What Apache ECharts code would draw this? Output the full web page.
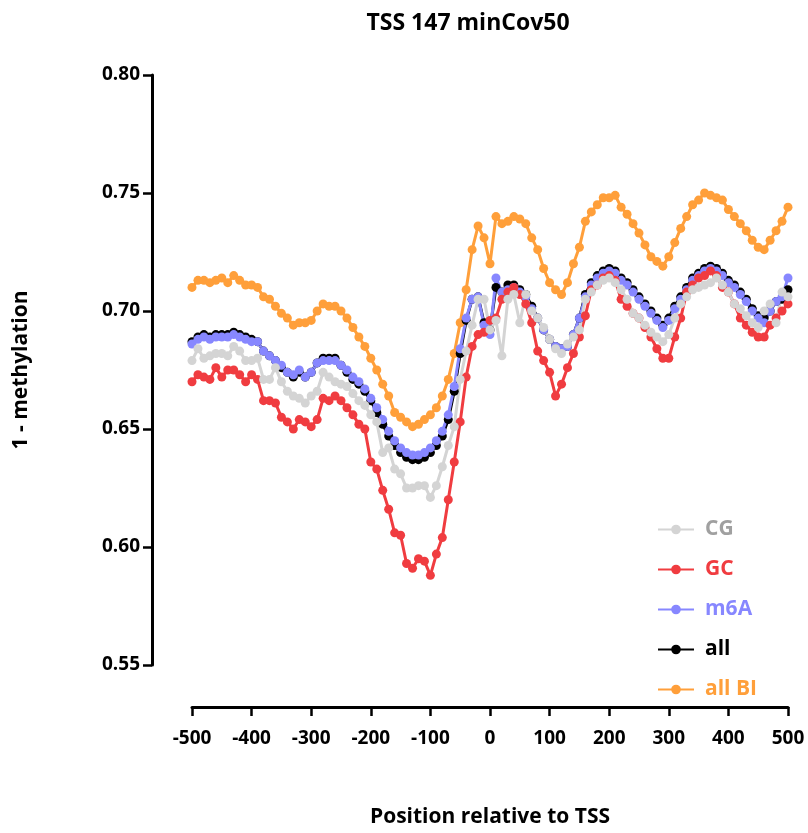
<!DOCTYPE html>
<html><head><meta charset="utf-8">
<script src="https://cdn.jsdelivr.net/npm/echarts@6/dist/echarts.min.js"></script>
<style>html,body{margin:0;padding:0;background:#fff}#c{width:808px;height:833px}</style>
</head><body><div id="c"></div>
<script>
const positions = [];
for (let p = -500; p <= 500; p += 10) positions.push(p);

const allBI = [0.710,0.713,0.713,0.712,0.713,0.714,0.712,0.715,0.713,0.711,0.711,0.710,0.706,0.705,0.702,0.699,0.697,0.694,0.695,0.695,
0.696,0.700,0.703,0.702,0.702,0.700,0.697,0.693,0.689,0.685,0.680,0.675,0.669,0.664,0.657,0.655,0.653,0.651,0.652,0.654,
0.656,0.659,0.664,0.671,0.682,0.695,0.709,0.726,0.736,0.731,0.720,0.740,0.737,0.738,0.740,0.739,0.737,0.731,0.726,0.718,
0.712,0.709,0.707,0.712,0.720,0.727,0.738,0.742,0.745,0.748,0.748,0.749,0.744,0.741,0.737,0.733,0.728,0.723,0.721,0.719,
0.723,0.729,0.735,0.740,0.745,0.747,0.750,0.749,0.748,0.747,0.743,0.740,0.737,0.734,0.730,0.727,0.726,0.730,0.734,0.738,0.744];

const m6A = [0.686,0.688,0.689,0.688,0.689,0.689,0.689,0.690,0.689,0.688,0.687,0.687,0.683,0.681,0.679,0.677,0.674,0.673,0.675,0.672,
0.674,0.678,0.679,0.679,0.679,0.677,0.675,0.672,0.670,0.667,0.663,0.659,0.654,0.649,0.645,0.642,0.640,0.639,0.639,0.640,
0.642,0.645,0.649,0.656,0.668,0.684,0.697,0.705,0.706,0.694,0.690,0.714,0.708,0.709,0.710,0.708,0.706,0.701,0.697,0.692,
0.688,0.685,0.684,0.685,0.690,0.697,0.706,0.711,0.714,0.716,0.717,0.716,0.713,0.711,0.708,0.705,0.702,0.699,0.696,0.693,
0.696,0.701,0.705,0.709,0.713,0.715,0.717,0.718,0.717,0.715,0.712,0.710,0.707,0.704,0.700,0.697,0.695,0.700,0.704,0.706,0.714];

const all = [0.687,0.689,0.690,0.689,0.690,0.690,0.690,0.691,0.690,0.689,0.688,0.687,0.683,0.681,0.679,0.676,0.674,0.672,0.674,0.672,
0.674,0.678,0.680,0.680,0.680,0.677,0.674,0.671,0.669,0.666,0.662,0.657,0.652,0.647,0.643,0.640,0.638,0.637,0.637,0.638,
0.640,0.643,0.647,0.654,0.666,0.682,0.696,0.705,0.706,0.695,0.692,0.710,0.708,0.711,0.711,0.709,0.707,0.702,0.697,0.692,
0.688,0.685,0.684,0.685,0.690,0.697,0.707,0.712,0.715,0.717,0.718,0.717,0.714,0.712,0.709,0.706,0.703,0.700,0.697,0.694,
0.697,0.702,0.706,0.710,0.714,0.716,0.718,0.719,0.718,0.716,0.713,0.711,0.708,0.705,0.701,0.698,0.697,0.700,0.704,0.705,0.709];

const GC = [0.670,0.673,0.672,0.671,0.676,0.672,0.675,0.675,0.673,0.670,0.673,0.671,0.662,0.662,0.661,0.655,0.653,0.650,0.654,0.653,
0.651,0.654,0.663,0.662,0.664,0.662,0.659,0.656,0.652,0.650,0.636,0.633,0.624,0.616,0.606,0.605,0.593,0.591,0.595,0.594,
0.588,0.597,0.604,0.620,0.636,0.653,0.672,0.685,0.690,0.691,0.696,0.697,0.705,0.708,0.710,0.707,0.703,0.695,0.683,0.679,
0.674,0.664,0.669,0.676,0.682,0.689,0.698,0.709,0.711,0.714,0.715,0.713,0.705,0.702,0.699,0.697,0.693,0.689,0.684,0.680,
0.680,0.689,0.697,0.708,0.711,0.714,0.715,0.717,0.715,0.710,0.708,0.703,0.697,0.694,0.691,0.689,0.689,0.694,0.697,0.700,0.703];

const CG = [0.679,0.684,0.680,0.681,0.682,0.682,0.681,0.685,0.683,0.679,0.679,0.680,0.671,0.671,0.676,0.670,0.666,0.664,0.663,0.661,
0.664,0.666,0.674,0.672,0.670,0.669,0.668,0.665,0.662,0.660,0.656,0.653,0.640,0.642,0.633,0.631,0.625,0.625,0.626,0.626,
0.621,0.626,0.634,0.643,0.651,0.671,0.683,0.694,0.705,0.705,0.692,0.696,0.681,0.705,0.707,0.695,0.707,0.700,0.697,0.693,
0.688,0.684,0.682,0.686,0.689,0.692,0.705,0.708,0.711,0.713,0.714,0.712,0.709,0.705,0.699,0.697,0.694,0.691,0.689,0.687,
0.690,0.697,0.703,0.706,0.709,0.710,0.711,0.712,0.714,0.711,0.708,0.703,0.701,0.698,0.695,0.693,0.700,0.703,0.695,0.708,0.706];

const xTicks = [-500,-400,-300,-200,-100,0,100,200,300,400,500];
const yTicks = [0.55,0.60,0.65,0.70,0.75,0.80];

const FONT = '"Open Sans", "Noto Sans", sans-serif';
const pair = arr => positions.map((p, i) => [p, arr[i]]);
const mk = (name, arr, color) => ({
  name, type: 'line', data: pair(arr), symbol: 'circle', symbolSize: 9,
  itemStyle: {color}, lineStyle: {color, width: 3}, animation: false, z: 2
});

const chart = echarts.init(document.getElementById('c'));
chart.setOption({
  backgroundColor: '#fff',
  animation: false,
  title: {text: 'TSS 147 minCov50', left: 463, top: 7, textAlign: 'center',
    textStyle: {fontFamily: FONT, fontWeight: 'bold', fontSize: 23, color: '#000'}},
  grid: {left: 192, right: 20, top: 75, bottom: 163},
  legend: {
    orient: 'vertical', left: 652, top: 514, itemGap: 19, itemWidth: 36, itemHeight: 12,
    data: [
      {name: 'CG', textStyle: {color: '#a0a0a0'}},
      {name: 'GC', textStyle: {color: '#f03c40'}},
      {name: 'm6A', textStyle: {color: '#8787ff'}},
      {name: 'all', textStyle: {color: '#000'}},
      {name: 'all BI', textStyle: {color: '#ff9f3a'}}
    ],
    textStyle: {fontFamily: FONT, fontWeight: 'bold', fontSize: 21, padding: [0, 0, 0, 6]}
  },
  xAxis: {
    type: 'value', min: -500, max: 500, interval: 100, offset: 42,
    axisLine: {show: true, onZero: false, lineStyle: {color: '#000', width: 3}},
    axisTick: {show: true, length: 9, lineStyle: {color: '#000', width: 2.5}},
    splitLine: {show: false},
    axisLabel: {fontFamily: FONT, fontWeight: 'bold', fontSize: 19, color: '#000', margin: 22,
      formatter: v => xTicks.includes(v) ? String(v) : ''},
    name: 'Position relative to TSS', nameLocation: 'middle', nameGap: 100,
    nameTextStyle: {fontFamily: FONT, fontWeight: 'bold', fontSize: 21, color: '#000'}
  },
  yAxis: {
    type: 'value', min: 0.55, max: 0.80, interval: 0.05, offset: 40,
    axisLine: {show: true, onZero: false, lineStyle: {color: '#000', width: 3}},
    axisTick: {show: true, length: 9, lineStyle: {color: '#000', width: 2.5}},
    splitLine: {show: false},
    axisLabel: {fontFamily: FONT, fontWeight: 'bold', fontSize: 19, color: '#000', margin: 12,
      formatter: v => {const t = yTicks.find(y => Math.abs(y - v) < 1e-6); return t === undefined ? '' : t.toFixed(2);}},
    name: '1 - methylation', nameLocation: 'middle', nameGap: 120, nameRotate: 90,
    nameTextStyle: {fontFamily: FONT, fontWeight: 'bold', fontSize: 21, color: '#000'}
  },
  series: [
    mk('all BI', allBI, '#ff9f3a'),
    mk('all', all, '#000000'),
    mk('m6A', m6A, '#8787ff'),
    mk('GC', GC, '#f03c40'),
    mk('CG', CG, '#d4d4d4')
  ]
});
</script></body></html>
